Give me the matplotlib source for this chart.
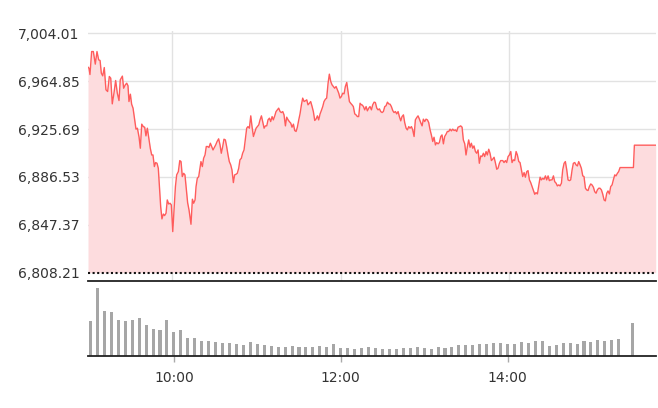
import matplotlib
matplotlib.use("Agg")
import matplotlib.pyplot as plt

# index level, minutes after 09:00
minutes = [
    0.0, 0.7, 1.4, 2.6, 3.8, 5.2, 6.4, 7.6, 8.6, 9.5, 10.5, 11.6, 12.8, 14.0, 15.2, 16.2,
    17.3, 18.5, 19.7, 20.9, 22.1, 23.0, 24.5, 25.4, 26.6, 27.6, 28.5, 29.2, 30.2, 31.1,
    32.1, 33.3, 34.2, 35.2, 36.4, 37.3, 38.3, 39.4, 40.4, 41.3, 42.3, 43.2, 44.4, 45.4,
    46.3, 47.3, 48.2, 49.2, 50.1, 51.1, 51.8, 52.7, 53.7, 54.6, 55.6, 56.5, 57.5, 58.5,
    59.4, 60.4, 61.3, 62.3, 63.2, 64.4, 65.4, 66.3, 67.2, 68.2, 69.1, 70.1, 71.0, 72.0,
    73.4, 74.4, 75.3, 76.3, 77.0, 77.9, 78.9, 79.8, 80.5, 81.5, 82.4, 83.4, 84.3, 85.3,
    86.2, 87.2, 88.1, 89.1, 90.1, 91.0, 92.0, 93.1, 94.1, 95.0, 96.0,
    96.9, 97.9, 98.8, 99.8, 100.7, 101.7, 102.6, 103.6, 104.5, 105.5,
    106.4, 107.4, 108.3, 109.3, 110.2, 111.2, 112.1, 113.1, 114.0, 115.0,
    116.0, 116.9, 117.9, 118.8, 119.8, 120.7, 121.7, 122.6, 123.6, 124.5,
    125.5, 126.4, 127.4, 128.3, 129.3, 130.2, 131.2, 132.1, 133.1, 134.0,
    135.0, 135.9, 136.9, 137.8, 138.8, 139.7, 140.7, 141.6, 142.6, 143.5,
    144.5, 145.4, 146.4, 147.3, 148.3, 149.2, 150.2, 151.1, 152.1, 153.0,
    154.0, 154.9, 155.9, 156.8, 157.8, 158.7, 159.7, 160.6, 161.6, 162.5,
    163.5, 164.4, 165.4, 166.3, 167.3, 168.2, 169.2, 170.1, 171.1, 172.0,
    173.0, 173.9, 174.9, 175.8, 176.8, 177.7, 178.7, 179.6, 180.6, 181.5,
    182.5, 183.4, 184.4, 185.3, 186.3, 187.2, 188.2, 189.1, 190.1, 191.0,
    192.0, 192.9, 193.9, 194.8,
    195.3, 196.3, 197.2, 198.2, 199.1, 200.1, 201.0, 202.0, 202.9, 203.9,
    204.8, 205.8, 206.7, 207.7, 208.6, 209.6, 210.5, 211.5, 212.4, 213.4,
    214.3, 215.3, 216.2, 217.2, 218.1, 219.1, 220.0, 221.0, 221.9, 222.9,
    223.8, 224.8, 225.7, 226.7, 227.6, 228.6, 229.5, 230.5, 231.4, 232.4,
    233.3, 234.3, 235.2, 236.2, 237.1, 238.1, 239.0, 240.0, 240.9, 241.9,
    242.8, 243.8, 244.7, 245.7, 246.6, 247.6, 248.5, 249.5, 250.4, 251.4,
    252.3, 253.3, 254.2, 255.2, 256.1, 257.1, 258.0, 259.0, 259.9, 260.9,
    261.8, 262.8, 263.7, 264.7, 265.6, 266.6, 267.5, 268.5, 269.4, 270.4,
    271.3, 272.3, 273.2, 274.2, 275.1, 276.1, 277.0, 278.0, 278.9, 279.9,
    280.8, 281.8, 282.7, 283.7, 284.6, 285.6, 286.5, 287.5, 288.4, 289.4,
    290.3, 291.3, 292.2, 293.2, 294.1,
    295.6, 296.5, 297.5, 298.4, 299.4, 300.3, 301.3, 302.2, 303.2, 304.1,
    305.1, 306.0, 307.0, 307.9, 308.9, 309.8, 310.8, 311.7, 312.7, 313.6,
    314.6, 315.5, 316.5, 317.4, 318.4, 319.3, 320.3, 321.2, 322.2, 323.1,
    324.1, 325.0, 326.0, 326.9, 327.9, 328.8, 329.8, 330.7, 331.7, 332.6,
    333.6, 334.5, 335.5, 336.4, 337.4, 338.3, 339.3, 340.2, 341.2, 342.1,
    343.1, 344.0, 345.0, 345.9, 346.9, 347.8, 348.8, 349.7, 350.7, 351.6,
    352.6, 353.5, 354.5, 355.4, 356.4, 357.3, 358.3, 359.2, 360.2, 361.1,
    362.1, 363.0, 364.0, 364.9, 365.9, 366.8, 367.8, 368.7, 369.7, 370.6,
    371.6, 372.5, 373.5, 374.4, 375.4, 376.3, 377.3, 378.2, 379.2,
    388.7, 389.4, 404.6,
]

prices = [
    6976.3, 6975.5, 6970.3, 6989.1, 6989.1, 6978.8, 6989.1, 6982.3, 6981.8, 6971.4,
    6969.2, 6976.0, 6957.8, 6956.4, 6968.7, 6967.3, 6946.3, 6955.0, 6965.4, 6955.0,
    6949.0, 6966.0, 6969.0, 6959.1, 6961.9, 6963.2, 6961.1, 6948.2, 6954.2, 6946.0,
    6942.8, 6933.2, 6925.6, 6926.4, 6919.0, 6910.0, 6929.7, 6927.7, 6927.2, 6920.1,
    6926.4, 6919.6, 6910.0, 6904.5, 6904.5, 6895.0, 6898.3, 6897.7, 6893.6, 6875.9,
    6862.2, 6852.2, 6856.2, 6854.9, 6856.8, 6867.7, 6864.4, 6865.0, 6863.6, 6841.8,
    6859.5, 6878.6, 6888.2, 6890.9, 6899.9, 6899.1, 6886.8, 6889.5, 6888.2, 6875.9,
    6865.5, 6859.5, 6847.8, 6868.3, 6865.0, 6867.7, 6878.6, 6885.4, 6886.8, 6893.6,
    6899.1, 6895.0, 6901.8, 6904.5, 6911.4, 6911.4, 6910.6, 6914.1, 6911.4, 6908.6,
    6910.8, 6912.7, 6915.5, 6917.7, 6912.7, 6905.9, 6911.4,
    6917.4, 6916.8, 6911.4, 6904.5, 6899.1, 6896.4, 6892.3, 6881.9, 6888.2, 6888.7,
    6889.5, 6893.6, 6900.5, 6901.8, 6905.9, 6908.6, 6916.8, 6926.4, 6927.7, 6926.4,
    6936.5, 6927.7, 6919.6, 6922.8, 6926.4, 6927.7, 6929.1, 6933.2, 6936.5, 6931.8,
    6926.4, 6928.3, 6928.3, 6933.2, 6934.6, 6931.8, 6935.9, 6933.2, 6936.5, 6940.0,
    6941.4, 6942.8, 6940.0, 6939.2, 6940.0, 6937.3, 6928.3, 6935.4, 6933.2, 6931.8,
    6930.5, 6927.2, 6929.7, 6924.5, 6923.7, 6927.2, 6933.2, 6938.1, 6945.5, 6951.0,
    6948.2, 6948.8, 6949.6, 6945.5, 6946.8, 6948.2, 6944.1, 6940.0, 6932.7, 6933.8,
    6936.5, 6933.2, 6938.1, 6940.8, 6944.1, 6948.2, 6950.1, 6951.0, 6963.2, 6970.6,
    6964.6, 6961.9, 6960.5, 6959.1, 6960.5, 6957.8, 6955.0, 6951.0, 6952.3, 6955.0,
    6954.5, 6960.5, 6963.8, 6956.4, 6948.2, 6946.8, 6945.5, 6944.1, 6938.1, 6937.3,
    6935.9, 6935.9, 6946.8, 6945.5,
    6945.5, 6944.1, 6941.4, 6944.1, 6940.6, 6942.8, 6944.1, 6941.4, 6945.5, 6947.7,
    6947.4, 6942.8, 6941.4, 6942.2, 6940.0, 6939.2, 6940.0, 6944.1, 6944.7, 6947.7,
    6946.3, 6946.0, 6944.1, 6940.8, 6939.2, 6940.0, 6938.1, 6940.0, 6935.9, 6932.4,
    6935.9, 6937.3, 6931.0, 6926.4, 6925.0, 6927.7, 6926.4, 6927.7, 6925.0, 6919.6,
    6933.2, 6935.1, 6936.5, 6933.8, 6931.0, 6928.3, 6933.8, 6931.8, 6933.8, 6933.2,
    6931.0, 6925.0, 6920.9, 6915.5, 6919.0, 6912.7, 6914.6, 6913.6, 6914.6, 6919.6,
    6920.9, 6913.6, 6919.6, 6921.5, 6923.7, 6923.7, 6925.6, 6924.2, 6925.6, 6924.5,
    6925.0, 6923.7, 6927.2, 6927.7, 6928.3, 6927.2, 6916.8, 6913.6, 6904.5, 6911.4,
    6916.8, 6910.8, 6914.1, 6910.0, 6911.9, 6907.3, 6905.9, 6908.6, 6897.7, 6903.7,
    6903.2, 6905.9, 6903.2, 6907.3, 6904.5, 6909.2, 6905.9, 6899.9, 6901.0, 6902.6,
    6898.3, 6892.8, 6893.6, 6897.7, 6899.9,
    6899.9, 6898.3, 6899.9, 6898.3, 6903.2, 6904.5, 6907.3, 6898.3, 6900.5, 6899.9,
    6907.3, 6904.5, 6899.1, 6898.3, 6892.3, 6886.8, 6890.1, 6886.3, 6890.9, 6891.7,
    6884.1, 6881.9, 6878.6, 6875.9, 6872.3, 6873.7, 6872.6, 6879.2, 6886.3, 6884.1,
    6885.4, 6884.6, 6887.4, 6884.1, 6887.4, 6883.5, 6884.1, 6884.1, 6887.4, 6882.7,
    6881.4, 6879.2, 6880.0, 6879.2, 6881.4, 6892.3, 6897.7, 6899.1, 6892.3, 6884.1,
    6883.5, 6884.1, 6892.3, 6897.7, 6898.3, 6896.4, 6895.5, 6899.1, 6896.4, 6893.6,
    6887.4, 6886.8, 6877.3, 6875.9, 6875.4, 6878.6, 6880.8, 6880.0, 6878.1, 6874.5,
    6873.2, 6875.9, 6877.3, 6877.3, 6875.9, 6872.6, 6867.7, 6866.9, 6873.2, 6875.1,
    6872.6, 6878.6, 6880.0, 6884.1, 6888.2, 6887.4, 6889.5, 6890.9, 6894.2,
    6894.2, 6912.5, 6912.5,
]

# 5-minute volume bars (09:00 .. 15:20) and the 15:30 closing auction
bar_minutes = list(range(0, 381, 5)) + [390]
volumes = [
    35, 68, 45, 44, 36, 35, 36, 38, 31, 27, 26, 36, 24, 26, 18, 18, 15, 15, 14, 13,
    13, 12, 11, 14, 12, 11, 10,
    9, 9, 10, 9, 9, 9, 10, 9, 12, 8, 8, 7, 8, 9, 8, 7, 7, 7, 8, 8, 9, 8, 7, 9, 8, 9, 11,
    11, 11, 12, 12, 13, 13, 12, 12, 14, 13, 15, 15, 10, 11, 13, 13, 12, 15, 14, 16, 15,
    16, 17,
    33,
]

y_ticks = [6808.21, 6847.37, 6886.53, 6925.69, 6964.85, 7004.01]
x_ticks = [60, 180, 300]
x_labels = ["10:00", "12:00", "14:00"]

n = min(len(minutes), len(prices))
minutes, prices = minutes[:n], prices[:n]
nb = min(len(bar_minutes), len(volumes))

W, H = 658, 408
fig = plt.figure(figsize=(W / 100, H / 100), dpi=100)

# price panel
ax = fig.add_axes([88 / W, (H - 281) / H, (656 - 88) / W, (281 - 31) / H])
ax.set_xlim(0, 404.8)
ax.set_ylim(6801.4, 7005.9)

for v in y_ticks[1:]:
    ax.axhline(v, color="#e2e2e2", lw=1, zorder=0)
for v in x_ticks:
    ax.axvline(v, color="#e2e2e2", lw=1, zorder=0)

ax.fill_between(minutes, prices, y_ticks[0], color="#fddcde", lw=0, zorder=1)
ax.plot(minutes, prices, color="#ff5c5c", lw=1.0, zorder=3)
ax.axhline(y_ticks[0], color="#111111", lw=1.5, ls=(0, (1, 1.2)), zorder=4)

ax.set_yticks(y_ticks)
ax.set_yticklabels([f"{v:,.2f}" for v in y_ticks])
ax.tick_params(axis="y", length=0, pad=6, labelsize=10, labelcolor="#333333")
ax.set_xticks([])
for side in ["top", "left", "right"]:
    ax.spines[side].set_visible(False)
ax.spines["bottom"].set_color("#222222")
ax.spines["bottom"].set_linewidth(1.3)

# volume panel
axv = fig.add_axes([88 / W, (H - 356) / H, (656 - 88) / W, (356 - 281) / H])
axv.bar(bar_minutes[:nb], volumes[:nb], width=2.2, color="#a6a6a6", zorder=2)
axv.set_xlim(-1.8, 406.8)
axv.set_ylim(0, 75)
axv.set_yticks([])
axv.set_xticks(x_ticks)
axv.set_xticklabels(x_labels)
axv.tick_params(axis="x", length=4, width=1, color="#aaaaaa", pad=7,
                labelsize=10, labelcolor="#333333")
for side in ["top", "left", "right"]:
    axv.spines[side].set_visible(False)
axv.spines["bottom"].set_color("#222222")
axv.spines["bottom"].set_linewidth(1.3)
axv.patch.set_alpha(0)

fig.savefig("out.png", dpi=100)
